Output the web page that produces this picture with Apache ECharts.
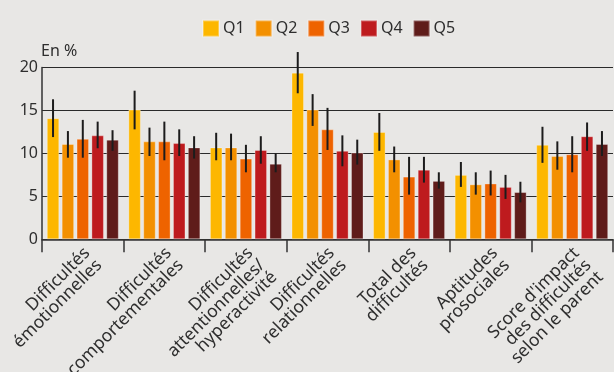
<!DOCTYPE html>
<html>
<head>
<meta charset="utf-8">
<script src="https://cdn.jsdelivr.net/npm/echarts@6/dist/echarts.min.js"></script>
<style>
html,body{margin:0;padding:0;background:#E8E7E5;overflow:hidden;}
#chart{width:614px;height:372px;}
</style>
</head>
<body>
<div id="chart"></div>
<script>
const categories = [
  'Difficultés\némotionnelles',
  'Difficultés\ncomportementales',
  'Difficultés\nattentionnelles/\nhyperactivité',
  'Difficultés\nrelationnelles',
  'Total des\ndifficultés',
  'Aptitudes\nprosociales',
  "Score d'impact\ndes difficultés\nselon le parent"
];
const seriesNames = ['Q1', 'Q2', 'Q3', 'Q4', 'Q5'];
const yTicks = [0, 5, 10, 15, 20];

const Q1 = [14.1, 15.1, 10.7, 19.4, 12.5, 7.5, 11.0];
const Q1lo = [11.9, 12.8, 9.2, 17.0, 10.3, 6.1, 8.9];
const Q1hi = [16.3, 17.3, 12.4, 21.8, 14.7, 9.0, 13.1];
const Q2 = [11.1, 11.4, 10.7, 15.1, 9.3, 6.4, 9.7];
const Q2lo = [9.5, 9.7, 9.2, 13.2, 7.8, 5.2, 8.1];
const Q2hi = [12.6, 13.0, 12.3, 16.9, 10.8, 7.8, 11.4];
const Q3 = [11.7, 11.4, 9.4, 12.8, 7.3, 6.5, 9.9];
const Q3lo = [9.5, 9.2, 7.8, 10.4, 5.2, 5.1, 7.8];
const Q3hi = [13.9, 13.7, 11.0, 15.3, 9.6, 8.0, 12.0];
const Q4 = [12.1, 11.2, 10.4, 10.3, 8.1, 6.1, 12.0];
const Q4lo = [10.6, 9.7, 8.8, 8.5, 6.6, 4.7, 10.3];
const Q4hi = [13.7, 12.8, 12.0, 12.1, 9.6, 7.5, 13.6];
const Q5 = [11.6, 10.7, 8.8, 10.1, 6.8, 5.5, 11.1];
const Q5lo = [10.3, 9.4, 7.8, 8.7, 5.9, 4.3, 9.7];
const Q5hi = [12.7, 12.0, 10.0, 11.6, 7.8, 6.7, 12.6];

const values = [Q1, Q2, Q3, Q4, Q5];
const lows = [Q1lo, Q2lo, Q3lo, Q4lo, Q5lo];
const highs = [Q1hi, Q2hi, Q3hi, Q4hi, Q5hi];
const colors = ['#FDB700', '#F39000', '#EE6300', '#BE1B1E', '#5F1C1A'];

const FONT = 'Noto Sans';
const TXT = '#2e2e2e';
const BAR_W = 12.5;
const BAR_GAP = 0.19;
const STEP = BAR_W * (1 + BAR_GAP);

const series = [];
seriesNames.forEach((name, i) => {
  series.push({
    name: name,
    type: 'bar',
    data: values[i],
    barWidth: BAR_W,
    barGap: (BAR_GAP * 100) + '%',
    itemStyle: { color: colors[i], borderColor: 'rgba(255,255,255,0.3)', borderWidth: 1 },
    z: 2
  });
});
seriesNames.forEach((name, i) => {
  const offset = (i - 2) * STEP;
  series.push({
    name: name,
    type: 'custom',
    z: 5,
    silent: true,
    encode: { x: 0, y: [1, 2] },
    data: categories.map((c, k) => [k, lows[i][k], highs[i][k]]),
    renderItem: function (params, api) {
      const k = api.value(0);
      const p1 = api.coord([k, api.value(1)]);
      const p2 = api.coord([k, api.value(2)]);
      const x = p1[0] + offset;
      return {
        type: 'line',
        shape: { x1: x, y1: p1[1], x2: x, y2: p2[1] },
        style: { stroke: '#1c1c1c', lineWidth: 2 }
      };
    }
  });
});

const chart = echarts.init(document.getElementById('chart'));
chart.setOption({
  backgroundColor: '#E8E7E5',
  animation: false,
  textStyle: { fontFamily: FONT, color: TXT },
  legend: {
    data: seriesNames,
    left: 197,
    top: 14.5,
    icon: 'rect',
    itemWidth: 16,
    itemHeight: 16,
    itemGap: 10,
    textStyle: { fontFamily: FONT, fontSize: 16, color: TXT, padding: [0, 0, 0, -1] }
  },
  grid: {
    left: 42,
    right: 1,
    top: 67.5,
    bottom: 132.7,
    containLabel: false,
    outerBoundsMode: 'none'
  },
  xAxis: {
    type: 'category',
    data: categories,
    axisLine: { lineStyle: { color: '#333', width: 1.5 } },
    axisTick: { show: true, length: 13, lineStyle: { color: '#333', width: 1.5 } },
    axisLabel: {
      interval: 0,
      rotate: 45,
      align: 'right',
      verticalAlign: 'top',
      margin: 9,
      padding: [-4, -1.5, 0, 0],
      fontFamily: FONT,
      fontSize: 17.5,
      lineHeight: 17,
      color: TXT
    }
  },
  yAxis: {
    type: 'value',
    min: yTicks[0],
    max: yTicks[yTicks.length - 1],
    interval: 5,
    name: 'En %',
    nameLocation: 'end',
    nameGap: 5,
    nameTextStyle: { align: 'left', verticalAlign: 'bottom', fontFamily: FONT, fontSize: 16, color: TXT, padding: [0, 0, 0, -1] },
    axisLine: { show: true, lineStyle: { color: '#333', width: 1.5 } },
    axisTick: { show: false },
    axisLabel: { fontFamily: FONT, fontSize: 16, color: TXT, margin: 4 },
    splitLine: { lineStyle: { color: '#2a2a2a', width: 1.2 } }
  },
  series: series
});
</script>
</body>
</html>
